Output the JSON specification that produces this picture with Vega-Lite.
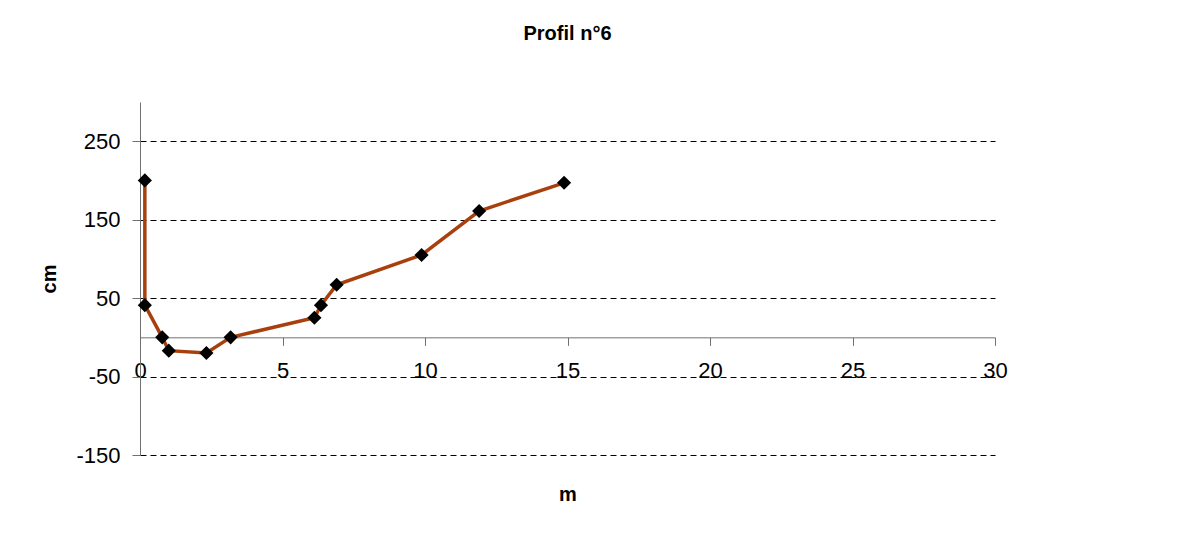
{
  "$schema": "https://vega.github.io/schema/vega-lite/v6.json",
  "autosize": "none",
  "width": 855,
  "height": 353,
  "padding": {"left": 140, "top": 102, "right": 197, "bottom": 81},
  "background": "white",
  "config": {
    "view": {"stroke": null},
    "font": "Liberation Sans"
  },
  "title": {
    "text": "Profil n°6",
    "font": "Liberation Sans",
    "fontSize": 20,
    "fontWeight": "bold",
    "color": "black",
    "anchor": "middle",
    "offset": 58
  },
  "data": {
    "values": [
      {"m": 0.17, "cm": 200},
      {"m": 0.17, "cm": 41},
      {"m": 0.78, "cm": 0},
      {"m": 1.01, "cm": -17},
      {"m": 2.33, "cm": -20},
      {"m": 3.18, "cm": 0},
      {"m": 6.12, "cm": 25},
      {"m": 6.35, "cm": 41},
      {"m": 6.9, "cm": 67},
      {"m": 9.88, "cm": 105},
      {"m": 11.9, "cm": 161},
      {"m": 14.88, "cm": 197}
    ]
  },
  "encoding": {
    "x": {
      "field": "m",
      "type": "quantitative",
      "scale": {"domain": [0, 30], "nice": false, "zero": false},
      "axis": {
        "title": "m",
        "values": [0, 5, 10, 15, 20, 25, 30],
        "offset": -117.67,
        "grid": false,
        "labelFlush": false,
        "labelOverlap": false,
        "domainColor": "#707070",
        "tickColor": "#707070",
        "tickSize": 8,
        "labelPadding": 15,
        "labelFontSize": 22,
        "labelColor": "black",
        "labelFont": "Liberation Sans",
        "titleFont": "Liberation Sans",
        "titleFontSize": 20,
        "titleFontWeight": "bold",
        "titleColor": "black",
        "titlePadding": 103
      }
    },
    "y": {
      "field": "cm",
      "type": "quantitative",
      "scale": {"domain": [-150, 300], "nice": false, "zero": false},
      "axis": {
        "title": "cm",
        "values": [-150, -50, 50, 150, 250],
        "labelExpr": "'' + datum.value",
        "labelFlush": false,
        "labelOverlap": false,
        "grid": true,
        "gridColor": "black",
        "gridDash": [6, 4],
        "gridWidth": 1,
        "domainColor": "#707070",
        "tickColor": "#707070",
        "tickSize": 8,
        "labelPadding": 12,
        "labelFontSize": 22,
        "labelColor": "black",
        "labelFont": "Liberation Sans",
        "titleFont": "Liberation Sans",
        "titleFontSize": 20,
        "titleFontWeight": "bold",
        "titleColor": "black",
        "titlePadding": 16
      }
    }
  },
  "layer": [
    {
      "mark": {"type": "line", "color": "#A8400E", "strokeWidth": 3.5}
    },
    {
      "mark": {"type": "point", "shape": "diamond", "filled": true, "color": "black", "size": 200, "opacity": 1}
    }
  ]
}
